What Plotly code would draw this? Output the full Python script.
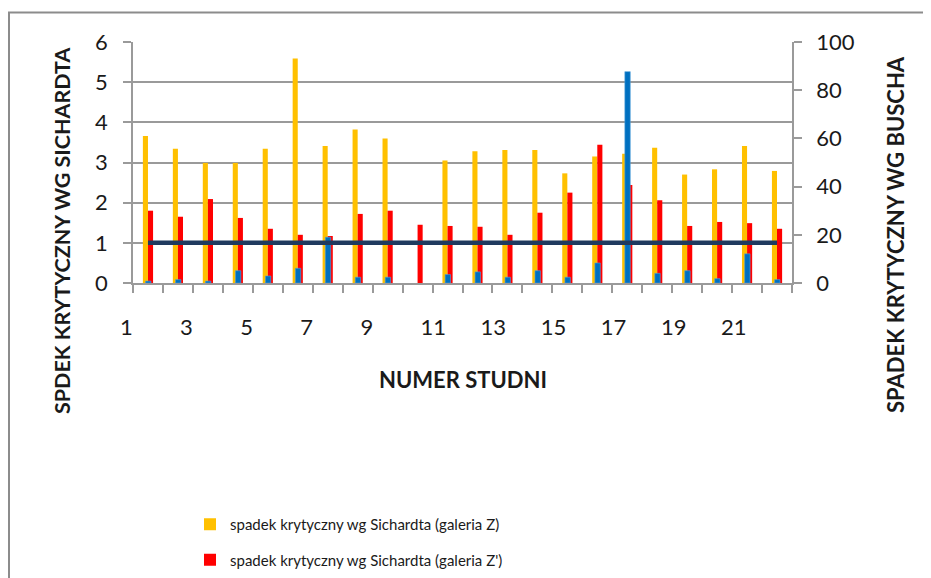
import plotly.graph_objects as go

wells = list(range(1, 23))
sich_z = [3.66, 3.34, 2.99, 2.99, 3.34, 5.59, 3.41, 3.82, 3.60, None, 3.05,
          3.28, 3.31, 3.31, 2.73, 3.15, 3.22, 3.37, 2.70, 2.83, 3.41, 2.79]
sich_z2 = [1.80, 1.65, 2.09, 1.62, 1.35, 1.20, 1.17, 1.72, 1.80, 1.45, 1.42,
           1.40, 1.20, 1.75, 2.25, 3.44, 2.44, 2.06, 1.42, 1.52, 1.49, 1.35]
busch = [0.8, 1.4, 0.8, 5.1, 2.9, 6.1, 19.0, 2.4, 2.4, None, 3.5,
         4.6, 2.4, 5.1, 2.4, 8.3, 87.7, 4.0, 5.1, 1.8, 12.1, 1.4]
limit = [1] * 22
x_tick_vals = list(range(1, 22, 2))
x_tick_text = [str(v) for v in x_tick_vals]

FONT = "Lato, 'Open Sans', sans-serif"
GRID = "#9a9a9a"
TXT = "#1a1a1a"

fig = go.Figure()
fig.add_trace(go.Bar(x=wells, y=sich_z, name="spadek krytyczny wg Sichardta (galeria Z)",
                     marker=dict(color="#FFC000", line=dict(width=0)),
                     width=0.17, offset=-0.17, legendgroup="a", yaxis="y"))
fig.add_trace(go.Bar(x=wells, y=sich_z2, name="spadek krytyczny wg Sichardta (galeria Z')",
                     marker=dict(color="#FF0000", line=dict(width=0)),
                     width=0.17, offset=0.0, legendgroup="b", yaxis="y"))
fig.add_trace(go.Bar(x=wells, y=busch, name="spadek krytyczny wg Buscha",
                     marker=dict(color="#0070C0", line=dict(width=0.6, color="#4f9fdc")),
                     width=0.18, offset=-0.08, showlegend=False, yaxis="y2"))
fig.add_trace(go.Scatter(x=wells, y=limit, name="1", mode="lines",
                         line=dict(color="#1F3A5F", width=4.5), showlegend=False, yaxis="y3"))
# empty carrier trace so the label axis (xaxis2) is drawn
fig.add_trace(go.Scatter(x=x_tick_vals, y=[None] * len(x_tick_vals), mode="markers",
                         xaxis="x2", yaxis="y4", showlegend=False, hoverinfo="skip"))

fig.update_layout(
    width=923, height=570,
    margin=dict(l=92, r=139, t=34, b=295, autoexpand=False),
    paper_bgcolor="white", plot_bgcolor="rgba(0,0,0,0)",
    barmode="overlay",
    font=dict(family=FONT, color=TXT),
    xaxis=dict(domain=[33/692, 1], range=[0.5, 22.5], showgrid=False, zeroline=False,
               showline=True, linecolor=GRID, linewidth=1.5,
               ticks="outside", ticklen=8, tickcolor=GRID, tickwidth=1.5,
               tickmode="linear", tick0=0.5, dtick=1, showticklabels=False),
    xaxis2=dict(domain=[0, 1], range=[0.3344, 23.363], anchor="y4", showgrid=False,
                zeroline=False, showline=False, ticks="",
                tickmode="array", tickvals=x_tick_vals, ticktext=x_tick_text,
                ticklabelposition="outside right", ticklabelstandoff=29,
                tickfont=dict(family=FONT, size=22, color=TXT)),
    yaxis=dict(range=[0, 6], anchor="x", tickvals=[0, 1, 2, 3, 4, 5, 6],
               showgrid=True, gridcolor=GRID, gridwidth=1.5, zeroline=False,
               showline=True, linecolor=GRID, linewidth=1.5,
               ticks="outside", ticklen=8, tickcolor=GRID, tickwidth=1.5,
               ticklabelstandoff=11, tickfont=dict(family=FONT, size=22, color=TXT)),
    yaxis2=dict(range=[0, 100], overlaying="y", side="right", anchor="x",
                tickvals=[0, 20, 40, 60, 80, 100], showgrid=False, zeroline=False,
                showline=True, linecolor=GRID, linewidth=1.5,
                ticks="outside", ticklen=8, tickcolor=GRID, tickwidth=1.5,
                ticklabelstandoff=10, tickfont=dict(family=FONT, size=22, color=TXT)),
    yaxis3=dict(range=[0, 6], overlaying="y", visible=False, anchor="x"),
    yaxis4=dict(domain=[0, 1], range=[0, 6], visible=False, anchor="x2", showgrid=False),
    legend=dict(x=(190 - 100) / 692, y=(283 - 508) / 241, xanchor="left", yanchor="top",
                tracegroupgap=13, itemwidth=30,
                font=dict(family=FONT, size=15, color=TXT),
                bgcolor="rgba(0,0,0,0)"),
    annotations=[
        dict(text="<b>NUMER STUDNI</b>", xref="paper", yref="paper",
             x=(463 - 100) / 692, y=(283 - 379) / 241, xanchor="center", yanchor="middle",
             showarrow=False, font=dict(family=FONT, size=22, color=TXT)),
        dict(text="<b>SPDEK KRYTYCZNY WG SICHARDTA</b>", xref="paper", yref="paper",
             x=(62 - 100) / 692, y=(283 - 231) / 241, xanchor="center", yanchor="middle",
             showarrow=False, textangle=-90, font=dict(family=FONT, size=21.5, color=TXT)),
        dict(text="<b>SPADEK KRYTYCZNY WG BUSCHA</b>", xref="paper", yref="paper",
             x=(895 - 100) / 692, y=(283 - 235) / 241, xanchor="center", yanchor="middle",
             showarrow=False, textangle=-90, font=dict(family=FONT, size=22, color=TXT)),
    ],
    shapes=[dict(type="rect", xref="paper", yref="paper",
                 x0=(9 - 100) / 692, x1=(945 - 100) / 692,
                 y0=(283 - 600) / 241, y1=(283 - 12.5) / 241,
                 line=dict(color="#8c8c8c", width=2), layer="below")],
)

fig.write_html("out.html")
